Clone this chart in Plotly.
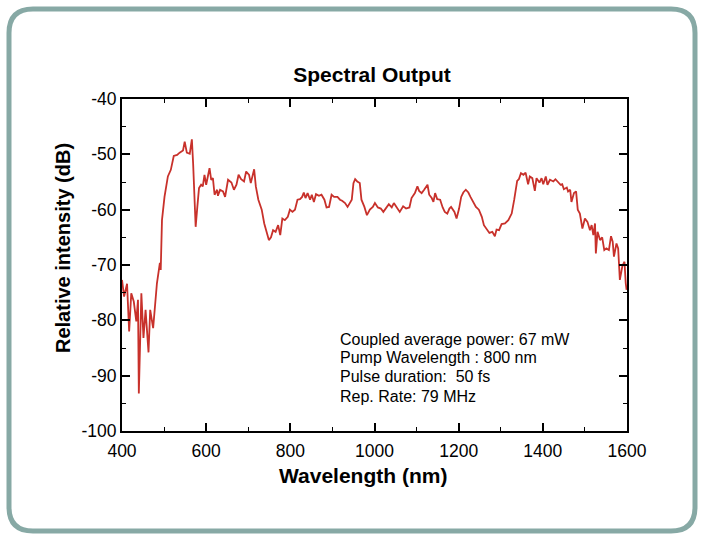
import plotly.graph_objects as go

# ---------------- data ----------------
wavelength_nm = [400, 405, 412, 417, 422, 428, 434, 438, 440, 446, 451, 456, 463, 467, 474, 478, 483, 490, 492, 495,
                 501, 509, 516, 523, 531, 537, 545, 549, 554, 561, 563, 566, 569, 575, 579, 583, 588, 592, 596, 600,
                 604, 608, 612, 616, 620, 626, 628, 633, 640, 645, 652, 660, 666, 672, 677, 683, 690, 695,
                 702, 706, 714, 718, 724, 732, 738, 744, 749, 754, 759, 765, 771, 776, 781, 787, 794, 799, 805, 811,
                 817, 823, 828, 832, 836, 841, 847, 851, 856, 861, 868, 874, 881, 886, 892, 898, 904, 912, 918, 923,
                 930, 936, 942, 946, 950, 954, 959, 965, 969, 976, 982, 989, 996, 1001, 1008, 1015, 1021, 1029, 1034,
                 1041, 1046, 1053, 1060, 1068, 1075, 1083, 1088, 1096, 1102, 1106, 1112, 1118, 1122, 1126, 1130, 1136,
                 1140, 1144, 1149, 1156, 1162, 1167, 1173, 1178, 1182, 1186, 1190, 1195, 1201, 1206, 1211, 1217, 1223,
                 1228, 1235, 1241, 1248, 1255, 1260, 1267, 1273, 1280, 1286, 1290, 1296, 1302, 1310, 1318, 1326, 1332,
                 1339, 1343, 1348, 1354, 1359, 1365, 1369, 1375, 1381, 1385, 1392, 1397, 1401, 1407, 1411, 1417, 1425,
                 1430, 1437, 1442, 1446, 1450, 1457, 1460, 1465, 1468, 1474, 1479, 1483, 1488, 1494, 1500, 1506, 1512,
                 1516, 1520, 1524, 1526, 1530, 1536, 1541, 1546, 1551, 1557, 1562, 1566, 1569, 1575, 1579, 1583, 1589,
                 1594, 1597, 1599]

intensity_db = [-72.7, -75.7, -73.4, -82.0, -75.1, -76.6, -80.2, -76.3, -93.2, -75.1, -83.2, -78.1, -85.8, -78.1,
                -81.4, -78.1, -73.3, -69.6, -70.9, -61.9, -57.7, -54.0, -52.8, -50.3, -50.1, -49.7, -49.3, -47.7,
                -49.7, -49.9, -48.9, -47.3, -51.6, -63.1, -59.5, -56.1, -55.5, -55.8, -53.7, -55.5, -54.0, -52.5,
                -54.6, -54.3, -57.3, -56.4, -57.5, -56.4, -56.7, -57.7, -54.6, -55.1, -56.4, -55.5, -53.7, -54.5,
                -54.9, -53.1,
                -53.7, -55.2, -52.7, -55.8, -58.2, -60.0, -62.5, -64.0, -65.5, -65.0, -63.7, -64.0, -62.8, -64.6,
                -61.6, -61.9, -61.3, -60.0, -60.4, -60.0, -58.2, -58.1, -57.7, -56.9, -57.9, -57.0, -58.2, -57.3,
                -58.6, -57.2, -57.5, -57.3, -58.2, -59.6, -59.5, -57.3, -57.7, -57.7, -58.2, -58.4, -58.8, -59.5,
                -58.8, -58.2, -55.2, -54.5, -54.9, -55.2, -58.2, -59.5, -61.0, -60.0, -59.5, -58.8, -59.6, -59.8,
                -60.4, -59.5, -59.0, -59.6, -58.8, -59.6, -60.4, -59.4, -59.8, -59.6, -57.9, -57.0, -55.8, -56.6,
                -57.0, -56.4, -55.8, -55.5, -57.3, -57.9, -58.6, -57.0, -58.1, -58.2, -59.6, -60.4, -60.7, -59.8,
                -59.5, -60.0, -60.4, -61.6, -59.8, -57.7, -56.9, -56.4, -56.9, -57.7, -58.6, -59.5, -60.0, -61.3,
                -62.8, -63.6, -64.2, -64.0, -64.8, -63.6, -63.7, -62.6, -62.5, -61.9, -60.7, -58.2, -54.8, -54.5,
                -53.4, -53.7, -53.3, -55.4, -54.0, -54.3, -56.6, -54.3, -55.1, -54.3, -55.4, -54.0, -55.5, -54.6,
                -54.9, -54.5, -55.1, -55.5, -55.4, -56.3, -56.0, -56.7, -56.4, -58.6, -57.0, -56.7, -60.0, -60.7,
                -63.4, -61.6, -62.2, -63.7, -62.8, -64.6, -62.5, -67.9, -64.0, -65.5, -65.0, -67.3, -67.0, -67.3,
                -64.8, -65.8, -68.5, -66.1, -67.0, -72.7, -70.2, -69.4, -73.3, -74.5]

x_tick_vals = [400, 600, 800, 1000, 1200, 1400, 1600]
y_tick_vals = [-100, -90, -80, -70, -60, -50, -40]
x_minor_vals = list(range(400, 1601, 100))
y_minor_vals = list(range(-100, -39, 5))

title_text = "Spectral Output"
x_title = "Wavelength (nm)"
y_title = "Relative intensity (dB)"
info_lines = ["Coupled average power: 67 mW",
              "Pump Wavelength : 800 nm",
              "Pulse duration:  50 fs",
              "Rep. Rate: 79 MHz"]

# ---------------- layout geometry ----------------
W, H = 702, 537
L, R, T, B = 122, 75, 99, 106
PW, PH = W - L - R, H - T - B
FONT = "Liberation Sans, Arial, Helvetica, sans-serif"
LINE_RED = "#C8312B"
BORDER = "#87A9A5"


def px(x):
    return (x - L) / PW


def py(y):
    return (H - B - y) / PH


# rounded border (decoration) in paper coordinates
x0, y0, x1, y1, r = 9, 9, 695, 531, 24
border_path = (
    f"M {px(x0 + r)},{py(y0)} L {px(x1 - r)},{py(y0)} "
    f"Q {px(x1)},{py(y0)} {px(x1)},{py(y0 + r)} L {px(x1)},{py(y1 - r)} "
    f"Q {px(x1)},{py(y1)} {px(x1 - r)},{py(y1)} L {px(x0 + r)},{py(y1)} "
    f"Q {px(x0)},{py(y1)} {px(x0)},{py(y1 - r)} L {px(x0)},{py(y0 + r)} "
    f"Q {px(x0)},{py(y0)} {px(x0 + r)},{py(y0)} Z"
)

fig = go.Figure()
fig.add_trace(go.Scatter(x=wavelength_nm, y=intensity_db, mode="lines",
                         line=dict(color=LINE_RED, width=1.8), hoverinfo="skip",
                         showlegend=False))

axis_common = dict(
    showgrid=False, zeroline=False, showline=True, linecolor="black", linewidth=2,
    mirror="allticks", ticks="inside", ticklen=8, tickwidth=1.5, tickcolor="black",
    tickfont=dict(family=FONT, size=17.5, color="black"),
)

fig.update_xaxes(range=[400, 1600], tickmode="array", tickvals=x_tick_vals,
                 ticktext=[str(v) for v in x_tick_vals], ticklabelstandoff=3,
                 minor=dict(tickvals=x_minor_vals, ticks="inside", ticklen=4, tickwidth=1.2,
                            tickcolor="black"),
                 **axis_common)
fig.update_yaxes(range=[-100, -40], tickmode="array", tickvals=y_tick_vals,
                 ticktext=[str(v) for v in y_tick_vals],
                 minor=dict(tickvals=y_minor_vals, ticks="inside", ticklen=4, tickwidth=1.2,
                            tickcolor="black"),
                 **axis_common)

annotations = []
line_y = [339, 357, 376, 396]
for txt, yy in zip(info_lines, line_y):
    annotations.append(dict(text=txt, x=px(338), y=py(yy), xref="paper", yref="paper",
                            xanchor="left", yanchor="middle", showarrow=False, align="left",
                            font=dict(family=FONT, size=16, color="black")))

# axis titles (placed as in the reference, slightly off-centre)
annotations.append(dict(text=f"<b>{x_title}</b>", x=px(363), y=py(476), xref="paper", yref="paper",
                        xanchor="center", yanchor="middle", showarrow=False,
                        font=dict(family=FONT, size=21, color="black")))
annotations.append(dict(text=f"<b>{y_title}</b>", x=px(63), y=py(248), xref="paper", yref="paper",
                        xanchor="center", yanchor="middle", showarrow=False, textangle=-90,
                        font=dict(family=FONT, size=20, color="black")))

fig.update_layout(
    width=W, height=H, autosize=False,
    margin=dict(l=L, r=R, t=T, b=B, pad=0),
    paper_bgcolor="white", plot_bgcolor="white",
    title=dict(text=f"<b>{title_text}</b>", x=px(372), xref="paper", xanchor="center",
               y=1 - 75 / H, yref="container", yanchor="middle",
               font=dict(family=FONT, size=21, color="black")),
    font=dict(family=FONT, color="black"),
    annotations=annotations,
    shapes=[dict(type="path", path=border_path, xref="paper", yref="paper",
                 line=dict(color=BORDER, width=5), fillcolor="rgba(0,0,0,0)", layer="above")],
)

fig.write_html("out.html")
